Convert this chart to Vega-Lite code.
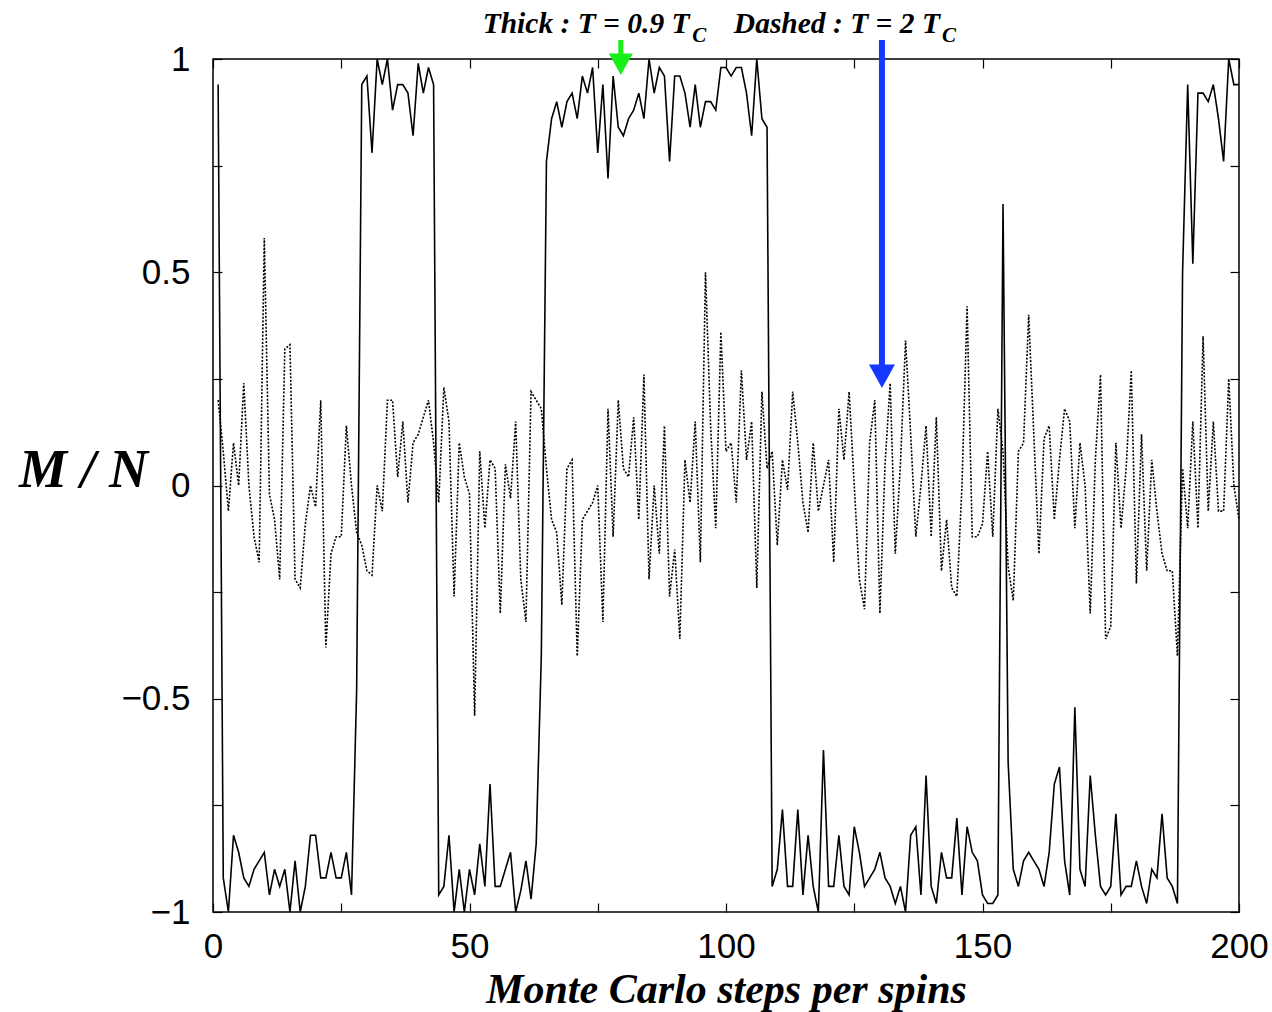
{
  "$schema": "https://vega.github.io/schema/vega-lite/v6.json",
  "width": 1026,
  "height": 853,
  "autosize": {"type": "none"},
  "padding": {"left": 213, "top": 59, "right": 33, "bottom": 100},
  "background": "white",
  "config": {
    "view": {"stroke": "black", "strokeWidth": 1.5},
    "axis": {"grid": false, "domain": false, "tickColor": "black", "labelColor": "black", "titleColor": "black", "labelFont": "Liberation Sans", "labelFontSize": 35, "tickSize": -9, "tickWidth": 1.2}
  },
  "datasets": {
    "mc": [
      {"step":1,"thick":0.94,"dashed":0.2},{"step":2,"thick":-0.92,"dashed":0.08},{"step":3,"thick":-1.0,"dashed":-0.06},{"step":4,"thick":-0.82,"dashed":0.1},{"step":5,"thick":-0.86,"dashed":0.0},
      {"step":6,"thick":-0.92,"dashed":0.24},{"step":7,"thick":-0.94,"dashed":0.0},{"step":8,"thick":-0.9,"dashed":-0.12},{"step":9,"thick":-0.88,"dashed":-0.18},{"step":10,"thick":-0.86,"dashed":0.58},
      {"step":11,"thick":-0.96,"dashed":-0.02},{"step":12,"thick":-0.9,"dashed":-0.08},{"step":13,"thick":-0.94,"dashed":-0.22},{"step":14,"thick":-0.9,"dashed":0.32},{"step":15,"thick":-1.0,"dashed":0.33},
      {"step":16,"thick":-0.88,"dashed":-0.22},{"step":17,"thick":-1.0,"dashed":-0.24},{"step":18,"thick":-0.94,"dashed":-0.09},{"step":19,"thick":-0.82,"dashed":0.0},{"step":20,"thick":-0.82,"dashed":-0.05},
      {"step":21,"thick":-0.92,"dashed":0.2},{"step":22,"thick":-0.92,"dashed":-0.38},{"step":23,"thick":-0.86,"dashed":-0.16},{"step":24,"thick":-0.92,"dashed":-0.12},{"step":25,"thick":-0.92,"dashed":-0.12},
      {"step":26,"thick":-0.86,"dashed":0.14},{"step":27,"thick":-0.96,"dashed":0.0},{"step":28,"thick":-0.48,"dashed":-0.11},{"step":29,"thick":0.94,"dashed":-0.14},{"step":30,"thick":0.96,"dashed":-0.2},
      {"step":31,"thick":0.78,"dashed":-0.21},{"step":32,"thick":1.0,"dashed":0.0},{"step":33,"thick":0.94,"dashed":-0.06},{"step":34,"thick":1.0,"dashed":0.2},{"step":35,"thick":0.88,"dashed":0.2},
      {"step":36,"thick":0.94,"dashed":0.02},{"step":37,"thick":0.94,"dashed":0.15},{"step":38,"thick":0.92,"dashed":-0.04},{"step":39,"thick":0.82,"dashed":0.1},{"step":40,"thick":0.99,"dashed":0.12},
      {"step":41,"thick":0.92,"dashed":0.16},{"step":42,"thick":0.98,"dashed":0.2},{"step":43,"thick":0.94,"dashed":0.1},{"step":44,"thick":-0.96,"dashed":-0.04},{"step":45,"thick":-0.94,"dashed":0.23},
      {"step":46,"thick":-0.82,"dashed":0.15},{"step":47,"thick":-1.0,"dashed":-0.26},{"step":48,"thick":-0.9,"dashed":0.1},{"step":49,"thick":-1.0,"dashed":0.02},{"step":50,"thick":-0.9,"dashed":-0.02},
      {"step":51,"thick":-0.96,"dashed":-0.54},{"step":52,"thick":-0.84,"dashed":0.08},{"step":53,"thick":-0.94,"dashed":-0.1},{"step":54,"thick":-0.7,"dashed":0.06},{"step":55,"thick":-0.94,"dashed":0.04},
      {"step":56,"thick":-0.94,"dashed":-0.3},{"step":57,"thick":-0.9,"dashed":0.05},{"step":58,"thick":-0.86,"dashed":-0.03},{"step":59,"thick":-1.0,"dashed":0.15},{"step":60,"thick":-0.95,"dashed":-0.22},
      {"step":61,"thick":-0.88,"dashed":-0.32},{"step":62,"thick":-0.97,"dashed":0.22},{"step":63,"thick":-0.84,"dashed":0.2},{"step":64,"thick":-0.4,"dashed":0.18},{"step":65,"thick":0.76,"dashed":0.04},
      {"step":66,"thick":0.86,"dashed":-0.08},{"step":67,"thick":0.9,"dashed":-0.11},{"step":68,"thick":0.84,"dashed":-0.28},{"step":69,"thick":0.9,"dashed":0.04},{"step":70,"thick":0.92,"dashed":0.06},
      {"step":71,"thick":0.86,"dashed":-0.4},{"step":72,"thick":0.96,"dashed":-0.08},{"step":73,"thick":0.92,"dashed":-0.06},{"step":74,"thick":0.98,"dashed":-0.04},{"step":75,"thick":0.78,"dashed":0.0},
      {"step":76,"thick":0.94,"dashed":-0.32},{"step":77,"thick":0.72,"dashed":0.18},{"step":78,"thick":0.96,"dashed":-0.12},{"step":79,"thick":0.84,"dashed":0.2},{"step":80,"thick":0.82,"dashed":0.04},
      {"step":81,"thick":0.86,"dashed":0.02},{"step":82,"thick":0.88,"dashed":0.16},{"step":83,"thick":0.92,"dashed":-0.08},{"step":84,"thick":0.86,"dashed":0.26},{"step":85,"thick":1.0,"dashed":-0.22},
      {"step":86,"thick":0.92,"dashed":0.0},{"step":87,"thick":0.98,"dashed":-0.16},{"step":88,"thick":0.96,"dashed":0.14},{"step":89,"thick":0.76,"dashed":-0.26},{"step":90,"thick":0.96,"dashed":-0.15},
      {"step":91,"thick":0.96,"dashed":-0.36},{"step":92,"thick":0.92,"dashed":0.06},{"step":93,"thick":0.84,"dashed":-0.04},{"step":94,"thick":0.94,"dashed":0.15},{"step":95,"thick":0.84,"dashed":-0.18},
      {"step":96,"thick":0.9,"dashed":0.5},{"step":97,"thick":0.9,"dashed":0.14},{"step":98,"thick":0.88,"dashed":-0.1},{"step":99,"thick":0.98,"dashed":0.36},{"step":100,"thick":0.98,"dashed":0.08},
      {"step":101,"thick":0.96,"dashed":0.1},{"step":102,"thick":0.98,"dashed":-0.04},{"step":103,"thick":0.98,"dashed":0.27},{"step":104,"thick":0.92,"dashed":0.06},{"step":105,"thick":0.82,"dashed":0.15},
      {"step":106,"thick":1.0,"dashed":-0.24},{"step":107,"thick":0.86,"dashed":0.22},{"step":108,"thick":0.84,"dashed":0.04},{"step":109,"thick":-0.94,"dashed":0.08},{"step":110,"thick":-0.9,"dashed":-0.14},
      {"step":111,"thick":-0.76,"dashed":0.06},{"step":112,"thick":-0.94,"dashed":-0.01},{"step":113,"thick":-0.94,"dashed":0.22},{"step":114,"thick":-0.76,"dashed":0.1},{"step":115,"thick":-0.96,"dashed":-0.04},
      {"step":116,"thick":-0.82,"dashed":-0.11},{"step":117,"thick":-0.94,"dashed":0.1},{"step":118,"thick":-1.0,"dashed":-0.06},{"step":119,"thick":-0.62,"dashed":0.0},{"step":120,"thick":-0.94,"dashed":0.06},
      {"step":121,"thick":-0.94,"dashed":-0.18},{"step":122,"thick":-0.82,"dashed":0.18},{"step":123,"thick":-0.94,"dashed":0.06},{"step":124,"thick":-0.96,"dashed":0.22},{"step":125,"thick":-0.8,"dashed":0.0},
      {"step":126,"thick":-0.86,"dashed":-0.22},{"step":127,"thick":-0.94,"dashed":-0.29},{"step":128,"thick":-0.92,"dashed":0.1},{"step":129,"thick":-0.9,"dashed":0.2},{"step":130,"thick":-0.86,"dashed":-0.3},
      {"step":131,"thick":-0.92,"dashed":0.05},{"step":132,"thick":-0.94,"dashed":0.24},{"step":133,"thick":-0.98,"dashed":-0.16},{"step":134,"thick":-0.94,"dashed":0.05},{"step":135,"thick":-1.0,"dashed":0.34},
      {"step":136,"thick":-0.82,"dashed":0.12},{"step":137,"thick":-0.8,"dashed":-0.12},{"step":138,"thick":-0.96,"dashed":0.0},{"step":139,"thick":-0.68,"dashed":0.14},{"step":140,"thick":-0.94,"dashed":-0.12},
      {"step":141,"thick":-0.98,"dashed":0.16},{"step":142,"thick":-0.86,"dashed":-0.2},{"step":143,"thick":-0.92,"dashed":-0.08},{"step":144,"thick":-0.92,"dashed":-0.24},{"step":145,"thick":-0.78,"dashed":-0.26},
      {"step":146,"thick":-0.96,"dashed":0.0},{"step":147,"thick":-0.8,"dashed":0.42},{"step":148,"thick":-0.86,"dashed":-0.12},{"step":149,"thick":-0.88,"dashed":-0.12},{"step":150,"thick":-0.96,"dashed":-0.09},
      {"step":151,"thick":-0.98,"dashed":0.08},{"step":152,"thick":-0.98,"dashed":-0.12},{"step":153,"thick":-0.96,"dashed":0.18},{"step":154,"thick":0.66,"dashed":0.08},{"step":155,"thick":-0.65,"dashed":-0.19},
      {"step":156,"thick":-0.9,"dashed":-0.27},{"step":157,"thick":-0.94,"dashed":0.08},{"step":158,"thick":-0.88,"dashed":0.1},{"step":159,"thick":-0.86,"dashed":0.4},{"step":160,"thick":-0.88,"dashed":0.12},
      {"step":161,"thick":-0.9,"dashed":-0.16},{"step":162,"thick":-0.94,"dashed":0.11},{"step":163,"thick":-0.86,"dashed":0.14},{"step":164,"thick":-0.7,"dashed":-0.08},{"step":165,"thick":-0.66,"dashed":0.06},
      {"step":166,"thick":-0.88,"dashed":0.18},{"step":167,"thick":-0.96,"dashed":0.15},{"step":168,"thick":-0.52,"dashed":-0.1},{"step":169,"thick":-0.9,"dashed":0.1},{"step":170,"thick":-0.94,"dashed":0.0},
      {"step":171,"thick":-0.68,"dashed":-0.3},{"step":172,"thick":-0.82,"dashed":0.06},{"step":173,"thick":-0.94,"dashed":0.26},{"step":174,"thick":-0.96,"dashed":-0.36},{"step":175,"thick":-0.94,"dashed":-0.33},
      {"step":176,"thick":-0.77,"dashed":0.1},{"step":177,"thick":-0.96,"dashed":-0.1},{"step":178,"thick":-0.94,"dashed":0.04},{"step":179,"thick":-0.94,"dashed":0.27},{"step":180,"thick":-0.88,"dashed":-0.23},
      {"step":181,"thick":-0.94,"dashed":0.12},{"step":182,"thick":-0.98,"dashed":-0.2},{"step":183,"thick":-0.9,"dashed":0.06},{"step":184,"thick":-0.92,"dashed":-0.06},{"step":185,"thick":-0.77,"dashed":-0.16},
      {"step":186,"thick":-0.92,"dashed":-0.2},{"step":187,"thick":-0.94,"dashed":-0.2},{"step":188,"thick":-0.98,"dashed":-0.4},{"step":189,"thick":0.5,"dashed":0.04},{"step":190,"thick":0.94,"dashed":-0.1},
      {"step":191,"thick":0.52,"dashed":0.15},{"step":192,"thick":0.92,"dashed":-0.1},{"step":193,"thick":0.92,"dashed":0.35},{"step":194,"thick":0.9,"dashed":-0.06},{"step":195,"thick":0.94,"dashed":0.15},
      {"step":196,"thick":0.86,"dashed":-0.06},{"step":197,"thick":0.76,"dashed":-0.06},{"step":198,"thick":1.0,"dashed":0.25},{"step":199,"thick":0.94,"dashed":0.0},{"step":200,"thick":0.94,"dashed":-0.08}
    ],
    "notes": [
      {"label": "Thick : T = 0.9 T", "step": 92.9, "m": 1.061, "kind": "main"},
      {"label": "C", "step": 93.4, "m": 1.04, "kind": "sub"},
      {"label": "Dashed : T = 2 T", "step": 141.7, "m": 1.061, "kind": "main"},
      {"label": "C", "step": 142.1, "m": 1.04, "kind": "sub"}
    ],
    "arrows": [
      {"name": "green", "step": 79.5, "top": 1.0445, "bottom": 1.0, "tip": 0.9625},
      {"name": "blue", "step": 130.4, "top": 1.0445, "bottom": 0.27, "tip": 0.2286}
    ]
  },
  "layer": [
    {
      "data": {"name": "mc"},
      "mark": {"type": "line", "color": "black", "strokeWidth": 1.6},
      "encoding": {
        "x": {"field": "step", "type": "quantitative", "scale": {"domain": [0, 200], "nice": false, "zero": false},
          "axis": {"orient": "bottom", "values": [0, 25, 50, 75, 100, 125, 150, 175, 200], "format": "d",
            "labelExpr": "datum.value % 50 === 0 ? datum.label : ''", "labelFlush": false, "labelOverlap": false, "labelPadding": 26,
            "title": "Monte Carlo steps per spins", "titleFont": "Liberation Serif", "titleFontStyle": "italic", "titleFontWeight": "bold",
            "titleFontSize": 42, "titleX": 513, "titleY": 90, "titleAlign": "center", "titleBaseline": "alphabetic"}},
        "y": {"field": "thick", "type": "quantitative", "scale": {"domain": [-1, 1], "nice": false, "zero": false},
          "axis": {"orient": "left", "values": [-1, -0.75, -0.5, -0.25, 0, 0.25, 0.5, 0.75, 1], "format": "~g",
            "labelExpr": "datum.value % 0.5 === 0 ? datum.label : ''", "labelFlush": false, "labelOverlap": false, "labelPadding": 32,
            "title": "M / N", "titleAngle": 0, "titleX": -130, "titleY": 411, "titleAlign": "center", "titleBaseline": "middle",
            "titleFont": "Liberation Serif", "titleFontStyle": "italic", "titleFontWeight": "bold", "titleFontSize": 54}}
      }
    },
    {
      "data": {"name": "mc"},
      "mark": {"type": "line", "color": "black", "strokeWidth": 1.6, "strokeDash": [2, 1.6]},
      "encoding": {
        "x": {"field": "step", "type": "quantitative", "scale": {"domain": [0, 200], "nice": false, "zero": false},
          "axis": {"orient": "top", "values": [0, 25, 50, 75, 100, 125, 150, 175, 200], "labels": false, "title": null}},
        "y": {"field": "dashed", "type": "quantitative", "scale": {"domain": [-1, 1], "nice": false, "zero": false},
          "axis": {"orient": "right", "values": [-1, -0.75, -0.5, -0.25, 0, 0.25, 0.5, 0.75, 1], "labels": false, "title": null}}
      }
    },
    {
      "data": {"name": "arrows"},
      "mark": {"type": "rule"},
      "encoding": {
        "x": {"field": "step", "type": "quantitative", "axis": null},
        "y": {"field": "top", "type": "quantitative", "axis": null},
        "y2": {"field": "bottom"},
        "color": {"field": "name", "type": "nominal", "scale": {"domain": ["green", "blue"], "range": ["#18ee18", "#1438ff"]}, "legend": null},
        "strokeWidth": {"field": "name", "type": "nominal", "scale": {"domain": ["green", "blue"], "range": [5, 6]}, "legend": null}
      }
    },
    {
      "data": {"name": "arrows"},
      "mark": {"type": "point", "filled": true, "opacity": 1, "strokeWidth": 0, "shape": "M-1,-1.8L1,-1.8L0,0Z"},
      "encoding": {
        "x": {"field": "step", "type": "quantitative", "axis": null},
        "y": {"field": "tip", "type": "quantitative", "axis": null},
        "color": {"field": "name", "type": "nominal", "scale": {"domain": ["green", "blue"], "range": ["#18ee18", "#1438ff"]}, "legend": null},
        "size": {"field": "name", "type": "nominal", "scale": {"domain": ["green", "blue"], "range": [576, 676]}, "legend": null}
      }
    },
    {
      "data": {"name": "notes"},
      "transform": [{"filter": "datum.kind === 'main'"}],
      "mark": {"type": "text", "align": "right", "baseline": "alphabetic", "font": "Liberation Serif", "fontStyle": "italic", "fontWeight": "bold", "fontSize": 29.5, "color": "black"},
      "encoding": {
        "x": {"field": "step", "type": "quantitative", "axis": null},
        "y": {"field": "m", "type": "quantitative", "axis": null},
        "text": {"field": "label"}
      }
    },
    {
      "data": {"name": "notes"},
      "transform": [{"filter": "datum.kind === 'sub'"}],
      "mark": {"type": "text", "align": "left", "baseline": "alphabetic", "font": "Liberation Serif", "fontStyle": "italic", "fontWeight": "bold", "fontSize": 21, "color": "black"},
      "encoding": {
        "x": {"field": "step", "type": "quantitative", "axis": null},
        "y": {"field": "m", "type": "quantitative", "axis": null},
        "text": {"field": "label"}
      }
    }
  ],
  "resolve": {"axis": {"x": "independent", "y": "independent"}}
}
